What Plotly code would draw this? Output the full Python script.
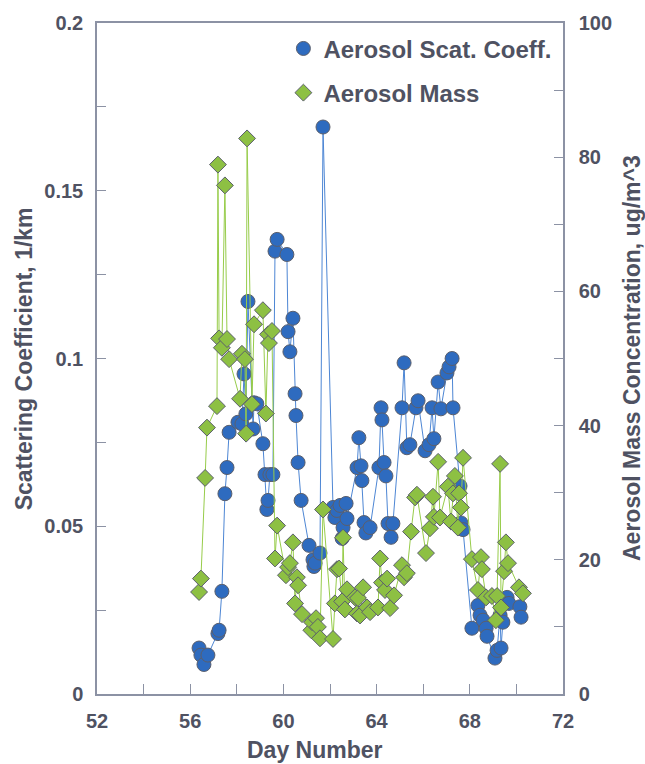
import plotly.graph_objects as go

# Aerosol scattering coefficient (1/km) vs day number
scat_day = [56.38, 56.46, 56.59, 56.76, 57.19, 57.24, 57.36, 57.49, 57.58, 57.67,
            58.05, 58.22, 58.31, 58.39, 58.48, 58.70, 58.74, 58.86, 59.12, 59.21,
            59.29, 59.34, 59.42, 59.55, 59.64, 59.73, 60.15, 60.20, 60.28, 60.41,
            60.50, 60.54, 60.63, 60.76, 61.10, 61.27, 61.31, 61.36, 61.57, 61.70,
            62.13, 62.21, 62.30, 62.43, 62.52, 62.56, 62.69, 62.73, 63.16, 63.24,
            63.33, 63.37, 63.46, 63.54, 63.72, 64.10, 64.19, 64.23, 64.32, 64.40,
            64.49, 64.62, 64.70, 65.09, 65.18, 65.30, 65.43, 65.69, 65.78, 66.08,
            66.25, 66.38, 66.46, 66.64, 66.76, 67.02, 67.11, 67.24, 67.28, 67.58,
            67.62, 67.71, 68.09, 68.35, 68.44, 68.57, 68.70, 68.74, 69.08, 69.17,
            69.30, 69.34, 69.42, 69.60, 69.68, 70.15, 70.20]
scat_value = [0.0137, 0.0116, 0.0088, 0.0116, 0.018, 0.019, 0.0306, 0.0597, 0.0675, 0.078,
              0.081, 0.0805, 0.0954, 0.0835, 0.117, 0.079, 0.0868, 0.0865, 0.0746, 0.0654,
              0.055, 0.0577, 0.0654, 0.0654, 0.132, 0.1355, 0.131, 0.108, 0.102, 0.112,
              0.0895, 0.083, 0.069, 0.0577, 0.0443, 0.040, 0.038, 0.039, 0.042, 0.169,
              0.0556, 0.0526, 0.0547, 0.0562, 0.0464, 0.0496, 0.0568, 0.0523, 0.0675, 0.0764,
              0.068, 0.0636, 0.0511, 0.048, 0.0496, 0.0675, 0.0853, 0.0817, 0.069, 0.065,
              0.0508, 0.0467, 0.0508, 0.0853, 0.0987, 0.0734, 0.0743, 0.0853, 0.0874, 0.0725,
              0.0743, 0.0853, 0.0761, 0.093, 0.085, 0.0957, 0.0975, 0.100, 0.0853, 0.062,
              0.051, 0.049, 0.0196, 0.0264, 0.0235, 0.022, 0.0196, 0.0172, 0.0107, 0.013,
              0.0235, 0.0137, 0.0214, 0.0288, 0.027, 0.026, 0.0229]

# Aerosol mass concentration (ug/m^3) vs day number
mass_day = [56.38, 56.46, 56.64, 56.72, 57.15, 57.19, 57.24, 57.36, 57.49, 57.58,
            57.67, 58.14, 58.22, 58.35, 58.40, 58.44, 58.65, 58.74, 59.12, 59.25,
            59.34, 59.38, 59.51, 59.64, 59.73, 60.11, 60.20, 60.28, 60.41, 60.50,
            60.58, 60.63, 60.80, 61.20, 61.23, 61.40, 61.48, 61.57, 61.70, 62.13,
            62.21, 62.30, 62.39, 62.52, 62.56, 62.64, 62.73, 63.07, 63.16, 63.20,
            63.29, 63.42, 63.59, 63.72, 64.06, 64.15, 64.23, 64.36, 64.45, 64.58,
            64.75, 65.09, 65.18, 65.30, 65.48, 65.65, 65.73, 66.12, 66.29, 66.42,
            66.46, 66.64, 66.72, 67.06, 67.19, 67.28, 67.36, 67.49, 67.54, 67.62,
            67.71, 68.09, 68.35, 68.48, 68.52, 68.70, 68.95, 69.12, 69.17, 69.30,
            69.34, 69.47, 69.55, 69.64, 70.11, 70.28]
mass_value = [15.2, 17.2, 32.2, 39.7, 42.9, 78.9, 53.0, 51.6, 75.8, 52.9,
              49.9, 44.0, 50.7, 49.9, 38.8, 82.8, 43.2, 55.1, 57.2, 41.8,
              53.6, 52.3, 54.1, 20.2, 25.1, 17.7, 18.9, 19.5, 22.6, 13.5,
              17.4, 16.2, 11.9, 9.5, 10.7, 11.3, 10.0, 8.3, 27.5, 8.2,
              13.5, 18.6, 18.7, 13.8, 23.3, 12.6, 15.6, 14.4, 12.0, 14.3,
              11.7, 15.9, 12.9, 12.2, 12.9, 20.2, 16.6, 15.5, 17.2, 12.8,
              14.7, 19.2, 17.4, 18.0, 24.2, 29.3, 29.7, 21.0, 24.7, 29.4,
              26.4, 34.6, 26.3, 30.9, 25.7, 29.9, 32.5, 24.8, 29.9, 27.8,
              35.2, 20.1, 15.5, 20.4, 18.6, 14.4, 14.6, 11.0, 14.6, 34.3,
              12.9, 18.3, 22.6, 19.5, 15.9, 15.0]

assert len(scat_day) == len(scat_value)
assert len(mass_day) == len(mass_value)

x_ticks = [52, 56, 60, 64, 68, 72]
y1_ticks = [0, 0.05, 0.1, 0.15, 0.2]
y1_labels = ["0", "0.05", "0.1", "0.15", "0.2"]
y2_ticks = [0, 20, 40, 60, 80, 100]

TXT = "#4f5262"
AX = "#8c92a4"
BLUE = "#2e6bbf"
BLUE_LINE = "#4d86d4"
GREEN = "#8dc043"
GREEN_LINE = "#97cc4a"
EDGE = "#5b5f6c"
FONT = "Liberation Sans"

fig = go.Figure()

fig.add_trace(go.Scatter(x=scat_day, y=scat_value, mode="lines",
                         line=dict(color=BLUE_LINE, width=1), showlegend=False,
                         hoverinfo="skip", yaxis="y"))
fig.add_trace(go.Scatter(x=scat_day, y=scat_value, mode="markers", name="Aerosol Scat. Coeff.",
                         marker=dict(symbol="circle", size=14, color=BLUE,
                                     line=dict(color=EDGE, width=1)),
                         legendgroup="a", yaxis="y"))
fig.add_trace(go.Scatter(x=mass_day, y=mass_value, mode="lines",
                         line=dict(color=GREEN_LINE, width=1), showlegend=False,
                         hoverinfo="skip", yaxis="y2"))
fig.add_trace(go.Scatter(x=mass_day, y=mass_value, mode="markers", name="Aerosol Mass",
                         marker=dict(symbol="diamond", size=13, color=GREEN,
                                     line=dict(color=EDGE, width=1)),
                         legendgroup="b", yaxis="y2"))

tick_font = dict(family=FONT, size=20, color=TXT, weight="bold")
title_font = dict(family=FONT, size=23, color=TXT, weight="bold")

fig.update_layout(
    width=645, height=764,
    margin=dict(l=97, r=82, t=21, b=70),
    paper_bgcolor="white", plot_bgcolor="white",
    showlegend=True,
    legend=dict(x=0.40, y=0.995, xanchor="left", yanchor="top",
                bgcolor="rgba(0,0,0,0)", font=dict(family=FONT, size=24, color=TXT, weight="bold"),
                tracegroupgap=10, itemwidth=30),
    xaxis=dict(range=[52, 72], tickvals=x_ticks, ticks="inside", ticklen=10,
               tickcolor=AX, tickwidth=1, showline=True, linecolor=AX, linewidth=1.5,
               mirror=True, showgrid=False, zeroline=False, tickfont=tick_font,
               ticklabelstandoff=8,
               minor=dict(dtick=2, tick0=52, ticks="inside", ticklen=10, tickcolor=AX, tickwidth=1)),
    yaxis=dict(range=[0, 0.2], tickvals=y1_ticks, ticktext=y1_labels, ticks="inside",
               ticklen=9, tickcolor=AX, tickwidth=1, showline=True, linecolor=AX,
               linewidth=1.5, showgrid=False, zeroline=False, tickfont=tick_font,
               ticklabelstandoff=8,
               minor=dict(dtick=0.025, tick0=0, ticks="inside", ticklen=9, tickcolor=AX, tickwidth=1)),
    yaxis2=dict(range=[0, 100], tickvals=y2_ticks, overlaying="y", side="right",
                ticks="inside", ticklen=9, tickcolor=AX, tickwidth=1, showline=True,
                linecolor=AX, linewidth=1.5, showgrid=False, zeroline=False,
                tickfont=tick_font, ticklabelstandoff=10,
                minor=dict(dtick=10, tick0=0, ticks="inside", ticklen=9, tickcolor=AX, tickwidth=1)),
    annotations=[
        dict(text="Day Number", x=0.468, y=-0.083, xref="paper", yref="paper",
             xanchor="center", yanchor="middle", showarrow=False, font=title_font),
        dict(text="Scattering Coefficient, 1/km", x=-0.157, y=0.5, xref="paper", yref="paper",
             xanchor="center", yanchor="middle", textangle=-90, showarrow=False, font=title_font),
        dict(text="Aerosol Mass Concentration, ug/m^3", x=1.147, y=0.5, xref="paper", yref="paper",
             xanchor="center", yanchor="middle", textangle=-90, showarrow=False, font=title_font),
    ],
)

fig.write_html("out.html")
